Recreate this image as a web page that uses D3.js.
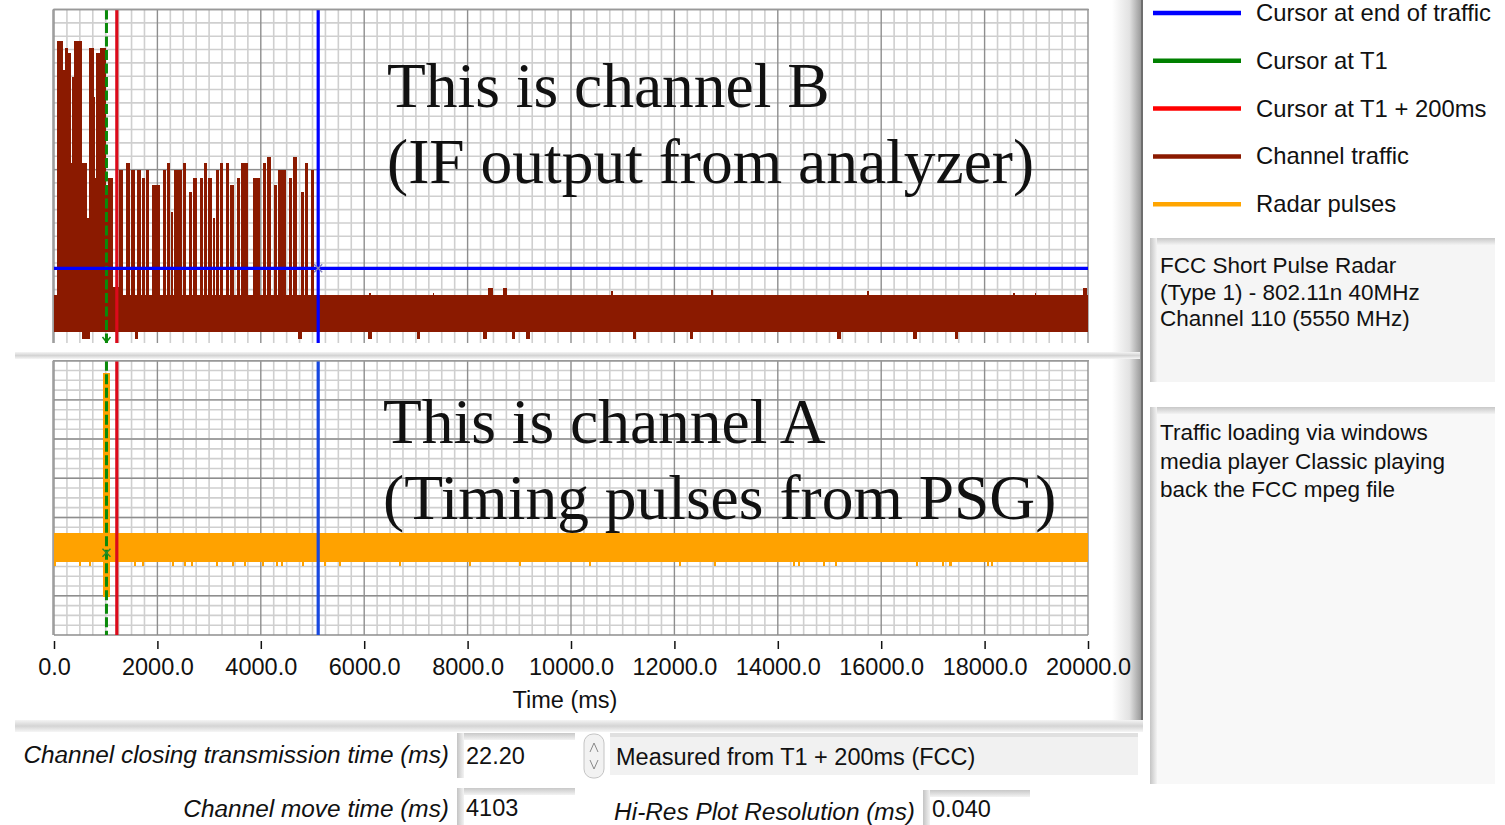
<!DOCTYPE html>
<html>
<head>
<meta charset="utf-8">
<script src="https://cdn.jsdelivr.net/npm/d3@7"></script>
<style>
  body { margin: 0; background: #fff; }
  svg text { font-family: "Liberation Sans", Arial, sans-serif; fill: #111; }
</style>
</head>
<body>
<div id="chart"></div>
<script>
const svgWidth = 1505;
const svgHeight = 825;

// time axis (ms)
const timeDomain = [0, 20000];
const timeTicks = [0, 2000, 4000, 6000, 8000, 10000, 12000, 14000, 16000, 18000, 20000];

// legend
const legendNames = ["Cursor at end of traffic", "Cursor at T1", "Cursor at T1 + 200ms", "Channel traffic", "Radar pulses"];
const legendColors = ["#0000ff", "#008000", "#ff0000", "#8b1a00", "#ffa500"];

// cursors
const cursorT1 = 1015;
const cursorT1Plus200 = 1215;
const cursorEndTraffic = 5110;
const endTrafficLevel = -77.6;

// channel B (top plot, dB) : base band [start, end, top, bottom]
const trafficBase = [5, 20000, -85.6, -96.7];
// bursts [start ms, end ms, top dB]
const trafficBursts = [
  [52, 168, -9.4], [168, 213, -18.1], [213, 277, -11.6], [277, 323, -13.1], [323, 348, -46],
  [348, 387, -20.1], [387, 536, -9.4], [536, 644, -46], [644, 683, -62.5], [683, 774, -11.6],
  [774, 800, -26.2], [800, 812, -50.5], [812, 890, -13.1], [890, 967, -11.6], [967, 1006, -11.6],
  [1006, 1050, -54], [1050, 1147, -50.5], [1147, 1257, -83.2],
  [1257, 1354, -48.1], [1393, 1489, -46.1], [1489, 1586, -48.1], [1612, 1696, -48.1], [1696, 1773, -50.6],
  [1773, 1857, -48.1], [1902, 2063, -52.6], [2115, 2192, -48.1], [2192, 2257, -46.1], [2257, 2321, -60.6],
  [2321, 2489, -48.1], [2489, 2566, -46.1], [2618, 2695, -54.6], [2695, 2792, -50.6], [2824, 2901, -50.6],
  [2901, 2985, -46.1], [2985, 3069, -50.6], [3069, 3133, -62.6], [3133, 3211, -48.1], [3211, 3288, -46.1],
  [3327, 3404, -46.1], [3404, 3501, -52.6], [3533, 3611, -50.6], [3623, 3778, -46.1], [3843, 3998, -50.6],
  [4049, 4114, -46.1], [4114, 4210, -44.1], [4255, 4339, -52.6], [4339, 4500, -48.1], [4551, 4629, -50.6],
  [4629, 4713, -44.1], [4771, 4855, -54.6], [4855, 4938, -46.1], [4971, 5048, -48.1]
];
// small spikes above the noise band [start, end, top]
const trafficSpikes = [
  [6100, 6125, -85.0], [7325, 7350, -85.0], [8400, 8497, -83.5], [8691, 8756, -83.5], [10780, 10810, -84.5],
  [12715, 12745, -84.0], [15730, 15760, -84.5], [18555, 18580, -85.0], [18975, 19000, -85.0], [19897, 19974, -83.5]
];
// dips below the noise band [start, end, bottom]
const trafficDips = [
  [536, 696, -98.8], [1567, 1631, -98.8], [4726, 4790, -98.8], [6080, 6145, -98.8], [7015, 7079, -98.8],
  [8304, 8369, -98.8], [8853, 8917, -98.8], [9130, 9207, -98.8], [11200, 11265, -98.8], [12300, 12365, -98.8],
  [15150, 15215, -98.8], [16619, 16683, -98.8], [17427, 17491, -98.8]
];

// channel A (bottom plot, dB)
const radarBase = [0, 20000, -87.8, -102.7];
const radarPulse = [942, 1083, -6.3, -120.6];
const radarDips = [
  [0, 40, -104.6], [480, 520, -104.6], [680, 720, -104.6], [1540, 1580, -104.6], [1700, 1740, -104.6],
  [2280, 2320, -104.6], [2510, 2550, -104.6], [2650, 2690, -104.6], [3130, 3170, -104.6], [3440, 3480, -104.6],
  [3670, 3710, -104.6], [4020, 4060, -104.6], [4290, 4330, -104.6], [4390, 4430, -104.6], [4790, 4830, -104.6],
  [5220, 5260, -104.6], [5510, 5550, -104.6], [6670, 6710, -104.6], [8020, 8060, -104.6], [9000, 9040, -104.6],
  [10340, 10380, -104.6], [12080, 12120, -104.6], [12760, 12800, -104.6], [14290, 14330, -104.6],
  [14390, 14430, -104.6], [14870, 14910, -104.6], [15100, 15140, -104.6], [16670, 16710, -104.6],
  [17170, 17210, -104.6], [17320, 17360, -104.6], [18040, 18080, -104.6], [18130, 18170, -104.6]
];

// side notes
const noteRadar = ["FCC Short Pulse Radar", "(Type 1) - 802.11n 40MHz", "Channel 110 (5550 MHz)"];
const noteTraffic = ["Traffic loading via windows", "media player Classic playing", "back the FCC mpeg file"];
const overlayB = ["This is channel B", "(IF output from analyzer)"];
const overlayA = ["This is channel A", "(Timing pulses from PSG)"];

const svg = d3.select("#chart").append("svg")
  .attr("width", svgWidth)
  .attr("height", svgHeight);

const defs = svg.append("defs");
function gradient(id, x2, y2, stops) {
  const g = defs.append("linearGradient").attr("id", id)
    .attr("x1", 0).attr("y1", 0).attr("x2", x2).attr("y2", y2);
  stops.forEach(s => g.append("stop").attr("offset", s[0]).attr("stop-color", s[1]));
}
gradient("edgeRight", 1, 0, [[0, "#ffffff"], [0.6, "#e2e2e2"], [1, "#9a9a9a"]]);
gradient("sepH", 0, 1, [[0, "#f4f4f4"], [0.5, "#d4d4d4"], [1, "#f6f6f6"]]);
gradient("insetTop", 0, 1, [[0, "#c8c8c8"], [1, "#f3f3f3"]]);
gradient("insetLeft", 1, 0, [[0, "#c4c4c4"], [1, "#f3f3f3"]]);

// ---- scales
const x = d3.scaleLinear().domain(timeDomain).range([54, 1088]);
const yTop = d3.scaleLinear().domain([-100, 0]).range([343, 9.5]);
const yBot = d3.scaleLinear().domain([-140, 0]).range([635, 360.7]);

// ---- panel frames
svg.append("rect").attr("x", 1112).attr("y", 0).attr("width", 29).attr("height", 723).attr("fill", "url(#edgeRight)");
svg.append("rect").attr("x", 1141).attr("y", 0).attr("width", 2).attr("height", 723).attr("fill", "#6e6e6e");
svg.append("rect").attr("x", 15).attr("y", 352).attr("width", 1125).attr("height", 7).attr("fill", "url(#sepH)");
svg.append("rect").attr("x", 15).attr("y", 720).attr("width", 1128).attr("height", 12).attr("fill", "url(#sepH)");

// ---- grids
function drawGrid(g, yScale, yMinor, yMajor) {
  const [y0, y1] = yScale.range();
  const minorT = d3.range(0, 20001, 250);
  g.selectAll(".vmin").data(minorT.filter(t => t % 2000 !== 0)).enter().append("line")
    .attr("x1", d => x(d)).attr("x2", d => x(d)).attr("y1", y1).attr("y2", y0)
    .attr("stroke", "#cfcfcf").attr("stroke-width", 1.6);
  g.selectAll(".hmin").data(yMinor).enter().append("line")
    .attr("x1", x(0)).attr("x2", x(20000)).attr("y1", d => yScale(d)).attr("y2", d => yScale(d))
    .attr("stroke", "#cfcfcf").attr("stroke-width", 1.6);
  g.selectAll(".vmaj").data(timeTicks).enter().append("line")
    .attr("x1", d => x(d)).attr("x2", d => x(d)).attr("y1", y1).attr("y2", y0)
    .attr("stroke", "#8e8e8e").attr("stroke-width", 1.4);
  g.selectAll(".hmaj").data(yMajor).enter().append("line")
    .attr("x1", x(0)).attr("x2", x(20000)).attr("y1", d => yScale(d)).attr("y2", d => yScale(d))
    .attr("stroke", "#8e8e8e").attr("stroke-width", 1.4);
}

const topG = svg.append("g");
drawGrid(topG, yTop, d3.range(-96, 0, 4), [0, -48]);
const botG = svg.append("g");
drawGrid(botG, yBot, d3.range(-135, 0, 5), d3.range(-140, 1, 20));

// ---- traces
function rects(g, data, yScale, color, topFn, botFn, gapFn) {
  g.append("g").attr("shape-rendering", "crispEdges")
    .selectAll("rect").data(data).enter().append("rect")
    .attr("x", d => Math.round(x(d[0])))
    .attr("width", d => Math.max(1, Math.round(x(d[1])) - Math.round(x(d[0])) - gapFn(d)))
    .attr("y", d => yScale(topFn(d)))
    .attr("height", d => yScale(botFn(d)) - yScale(topFn(d)))
    .attr("fill", color);
}
const noGap = () => 0;
const trafficColor = "#8b1a00";
rects(topG, [trafficBase], yTop, trafficColor, d => d[2], d => d[3], noGap);
rects(topG, trafficBursts, yTop, trafficColor, d => d[2], d => trafficBase[3], d => d[0] >= cursorT1Plus200 ? 1 : 0);
rects(topG, trafficSpikes, yTop, trafficColor, d => d[2], d => trafficBase[2], noGap);
rects(topG, trafficDips, yTop, trafficColor, d => trafficBase[3], d => d[2], noGap);

const radarColor = "#ffa200";
rects(botG, [radarBase], yBot, radarColor, d => d[2], d => d[3], noGap);
rects(botG, radarDips, yBot, radarColor, d => radarBase[3], d => d[2], noGap);
rects(botG, [radarPulse], yBot, radarColor, d => d[2], d => d[3], noGap);

// ---- cursors
function cursors(g, yScale, blue) {
  const [y0, y1] = yScale.range();
  g.append("line").attr("x1", x(cursorEndTraffic)).attr("x2", x(cursorEndTraffic))
    .attr("y1", y1).attr("y2", y0).attr("stroke", blue).attr("stroke-width", 3.2);
  g.append("line").attr("x1", x(cursorT1Plus200)).attr("x2", x(cursorT1Plus200))
    .attr("y1", y1).attr("y2", y0).attr("stroke", "#dc0a1a").attr("stroke-width", 3.2);
  g.append("line").attr("x1", x(cursorT1)).attr("x2", x(cursorT1))
    .attr("y1", y1).attr("y2", y0).attr("stroke", "#0a8a0a").attr("stroke-width", 3)
    .attr("stroke-dasharray", "10,3.5");
}
cursors(topG, yTop, "#0000ff");
cursors(botG, yBot, "#1848e0");

topG.append("line").attr("x1", x(0)).attr("x2", x(20000))
  .attr("y1", yTop(endTrafficLevel)).attr("y2", yTop(endTrafficLevel))
  .attr("stroke", "#0000ff").attr("stroke-width", 3.2);

function marker(g, cx, cy, color) {
  g.append("path").attr("d", `M${cx - 4},${cy - 4}L${cx + 4},${cy + 4}M${cx - 4},${cy + 4}L${cx + 4},${cy - 4}`)
    .attr("stroke", color).attr("stroke-width", 1.4).attr("fill", "none");
}
marker(topG, x(cursorEndTraffic), yTop(endTrafficLevel), "#8080c0");
marker(botG, x(cursorT1), yBot(-98), "#2a8a2a");
// small arrow at the foot of the T1 cursor
topG.append("path").attr("d", `M${x(cursorT1) - 4},${yTop.range()[0] - 6}L${x(cursorT1)},${yTop.range()[0] - 1}L${x(cursorT1) + 4},${yTop.range()[0] - 6}`)
  .attr("stroke", "#0a8a0a").attr("stroke-width", 1.5).attr("fill", "none");

// plot borders
[[yTop], [yBot]].forEach(([ys]) => {
  const [y0, y1] = ys.range();
  svg.append("line").attr("x1", 53).attr("x2", 53).attr("y1", y1).attr("y2", y0).attr("stroke", "#999").attr("stroke-width", 1.5);
  svg.append("line").attr("x1", 53).attr("x2", 1089).attr("y1", y1).attr("y2", y1).attr("stroke", "#999").attr("stroke-width", 1.5);
});

// ---- axis
const axis = svg.append("g").attr("transform", "translate(0,641)")
  .call(d3.axisBottom(x).tickValues(timeTicks).tickFormat(d3.format(".1f")).tickSize(8).tickPadding(9));
axis.select(".domain").remove();
axis.selectAll(".tick line").attr("stroke", "#111").attr("stroke-width", 1.5);
axis.selectAll(".tick text").attr("font-size", 23.5).attr("font-family", "Liberation Sans, Arial, sans-serif").attr("fill", "#111");
svg.append("text").attr("x", x(10000) - 6).attr("y", 708).attr("text-anchor", "middle")
  .attr("font-size", 23.5).text("Time (ms)");

// ---- overlay annotations
function overlay(lines, x0, y0) {
  svg.selectAll(null).data(lines).enter().append("text")
    .attr("x", x0).attr("y", (d, i) => y0 + i * 76)
    .style("font-family", "'Liberation Serif', 'Times New Roman', serif")
    .attr("font-size", 63.5).attr("fill", "#000").text(d => d);
}
overlay(overlayB, 387, 107);
overlay(overlayA, 383, 443);

// ---- legend
const legend = svg.append("g");
legend.selectAll("line").data(legendNames).enter().append("line")
  .attr("x1", 1153).attr("x2", 1241)
  .attr("y1", (d, i) => 13 + i * 47.8).attr("y2", (d, i) => 13 + i * 47.8)
  .attr("stroke", (d, i) => legendColors[i]).attr("stroke-width", 4.5);
legend.selectAll("text").data(legendNames).enter().append("text")
  .attr("x", 1256).attr("y", (d, i) => 21 + i * 47.8)
  .attr("font-size", 23.8).text(d => d);

// ---- note boxes
function insetBox(x0, y0, w, h, fill) {
  svg.append("rect").attr("x", x0).attr("y", y0).attr("width", w).attr("height", h).attr("fill", fill);
  svg.append("rect").attr("x", x0).attr("y", y0).attr("width", w).attr("height", 7).attr("fill", "url(#insetTop)");
  svg.append("rect").attr("x", x0).attr("y", y0).attr("width", 7).attr("height", h).attr("fill", "url(#insetLeft)");
}
insetBox(1150, 238, 345, 144, "#f5f5f5");
insetBox(1150, 407, 345, 377, "#f8f8f8");
svg.selectAll(null).data(noteRadar).enter().append("text")
  .attr("x", 1160).attr("y", (d, i) => 273 + i * 26.5).attr("font-size", 22.5).text(d => d);
svg.selectAll(null).data(noteTraffic).enter().append("text")
  .attr("x", 1160).attr("y", (d, i) => 440 + i * 28.5).attr("font-size", 22.5).text(d => d);

// ---- bottom controls
function label(txt, xr, yb) {
  svg.append("text").attr("x", xr).attr("y", yb).attr("text-anchor", "end")
    .attr("font-size", 24.4).attr("font-style", "italic").text(txt);
}
function field(txt, x0, y0, w, h) {
  insetBox(x0, y0, w, h, "#ffffff");
  svg.append("text").attr("x", x0 + 9).attr("y", y0 + h / 2 + 8).attr("font-size", 23.5).text(txt);
}
label("Channel closing transmission time (ms)", 449, 763);
field("22.20", 457, 733, 118, 45);
label("Channel move time (ms)", 449, 817);
field("4103", 457, 788, 118, 40);
label("Hi-Res Plot Resolution (ms)", 915, 820);
field("0.040", 923, 790, 107, 38);

// spinner
svg.append("rect").attr("x", 584).attr("y", 734).attr("width", 20).attr("height", 44).attr("rx", 9)
  .attr("fill", "#f2f2f2").attr("stroke", "#c4c4c4");
svg.append("path").attr("d", "M590,752 L594,743 L598,752 M590,760 L594,769 L598,760")
  .attr("fill", "none").attr("stroke", "#888").attr("stroke-width", 1);

// measured ring
svg.append("rect").attr("x", 610).attr("y", 735).attr("width", 528).attr("height", 40).attr("fill", "#f1f1f1");
svg.append("rect").attr("x", 610).attr("y", 733).attr("width", 528).attr("height", 4).attr("fill", "#e0e0e0");
svg.append("text").attr("x", 616).attr("y", 765).attr("font-size", 23.5).text("Measured from T1 + 200ms (FCC)");
</script>
</body>
</html>
